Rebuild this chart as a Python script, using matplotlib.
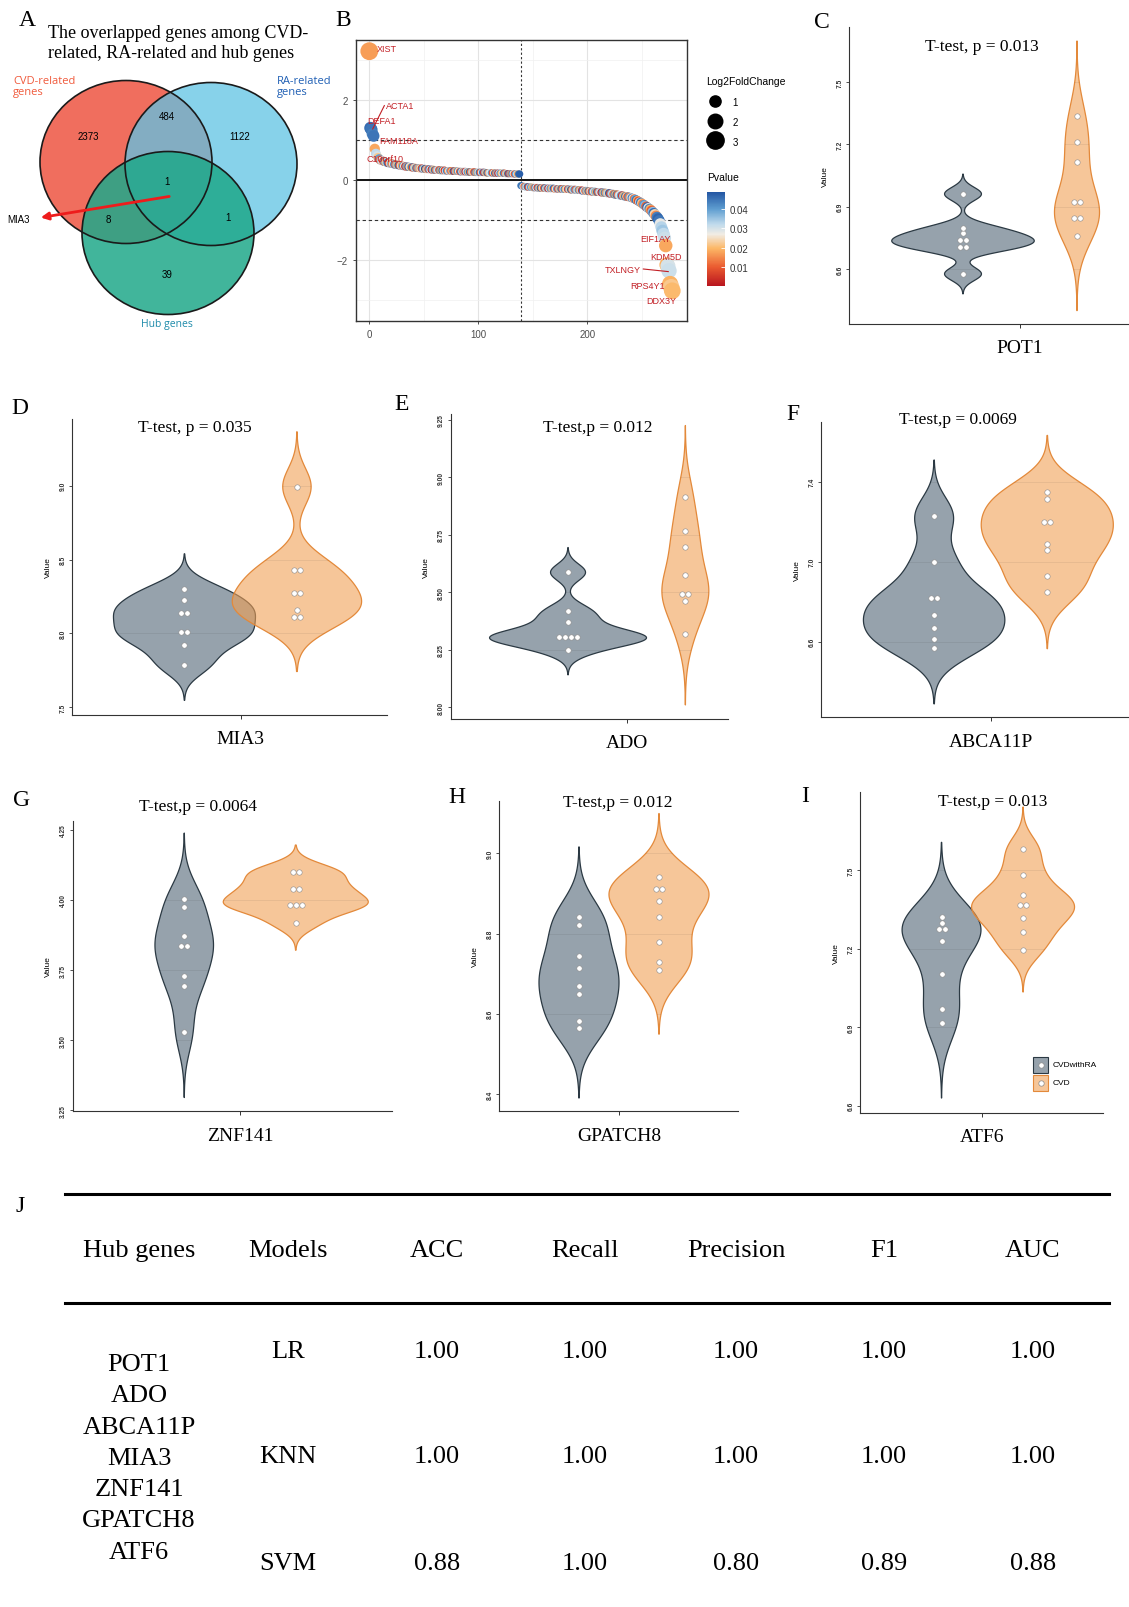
import numpy as np
import matplotlib
matplotlib.use("Agg")
import matplotlib.pyplot as plt
from matplotlib import mlab
from matplotlib.patches import Ellipse, Rectangle
from matplotlib.lines import Line2D
from matplotlib.colors import LinearSegmentedColormap, Normalize, to_rgba
from matplotlib.ticker import FormatStrFormatter

plt.rcParams['font.family'] = ['Liberation Sans', 'DejaVu Sans']
SERIF = 'Liberation Serif'

# ---------------- data ----------------
# A: venn counts (CVD only, CVD&RA, RA only, all three, CVD&Hub, RA&Hub, Hub only)
venn_counts = [2373, 484, 1122, 1, 8, 1, 39]
venn_names = ["CVD-related\ngenes", "RA-related\ngenes", "Hub genes"]

# B: genes ranked by log2 fold change, p value in 1/1000
log2fc_up = [
    3.22, 1.30, 1.26, 1.15, 1.10, 0.78, 0.66, 0.60, 0.56, 0.53, 0.50, 0.49,
    0.48, 0.47, 0.46, 0.45, 0.44, 0.43, 0.43, 0.42, 0.41, 0.41,
    0.40, 0.39, 0.39, 0.38, 0.38, 0.37, 0.37, 0.36, 0.36,
    0.35, 0.35, 0.34, 0.34, 0.33, 0.33, 0.33, 0.32, 0.32, 0.31,
    0.31, 0.31, 0.30, 0.30, 0.30, 0.29, 0.29, 0.29, 0.28, 0.28,
    0.28, 0.27, 0.27, 0.27, 0.27, 0.26, 0.26, 0.26, 0.26, 0.25,
    0.25, 0.25, 0.25, 0.25, 0.24, 0.24, 0.24, 0.24, 0.24, 0.23,
    0.23, 0.23, 0.23, 0.23, 0.23, 0.22, 0.22, 0.22, 0.22, 0.22,
    0.22, 0.22, 0.21, 0.21, 0.21, 0.21, 0.21, 0.21, 0.21, 0.20,
    0.20, 0.20, 0.20, 0.20, 0.20, 0.20, 0.19, 0.19, 0.19, 0.19,
    0.19, 0.19, 0.19, 0.19, 0.19, 0.19, 0.18, 0.18, 0.18, 0.18,
    0.18, 0.18, 0.18, 0.18, 0.17, 0.17, 0.17, 0.17, 0.17, 0.17,
    0.17, 0.17, 0.17, 0.17, 0.16, 0.16, 0.16, 0.16, 0.16, 0.16,
    0.16, 0.16, 0.15, 0.15, 0.15, 0.15, 0.15, 0.15,
]
log2fc_down = [
    -0.14, -0.15, -0.16, -0.16, -0.17, -0.17, -0.17, -0.18, -0.18, -0.18,
    -0.18, -0.19, -0.19, -0.19, -0.19, -0.19, -0.20, -0.20, -0.20, -0.20,
    -0.20, -0.20, -0.20, -0.21, -0.21, -0.21, -0.21, -0.21, -0.21, -0.21,
    -0.21, -0.22, -0.22, -0.22, -0.22, -0.22, -0.22, -0.22, -0.22, -0.23,
    -0.23, -0.23, -0.23, -0.23, -0.23, -0.24, -0.24, -0.24, -0.24, -0.24,
    -0.24, -0.25, -0.25, -0.25, -0.25, -0.26, -0.26, -0.27, -0.27, -0.27,
    -0.27, -0.28, -0.28, -0.28, -0.28, -0.29, -0.29, -0.29, -0.29, -0.30,
    -0.30, -0.30, -0.30, -0.31, -0.31, -0.31, -0.32, -0.32, -0.32, -0.33,
    -0.33, -0.33, -0.34, -0.34, -0.34, -0.35, -0.36, -0.36, -0.37, -0.37,
    -0.38, -0.38, -0.39, -0.39, -0.40, -0.40, -0.41, -0.41, -0.42, -0.42,
    -0.43, -0.44, -0.45, -0.46, -0.47, -0.48, -0.50, -0.51, -0.53, -0.55,
    -0.56, -0.58, -0.60, -0.62, -0.64, -0.66, -0.68, -0.70, -0.72, -0.74,
    -0.77, -0.80, -0.83, -0.86, -0.90, -0.93, -0.97, -1.02, -1.10, -1.18,
    -1.27, -1.35, -1.45, -1.64, -2.12, -2.15, -2.27, -2.60, -2.68, -2.77,
]
pval_up = [
    17, 46, 45, 44, 45, 18, 32, 30, 22, 40, 12, 35,
    27, 8, 41, 19, 33, 46, 5, 24, 38, 14,
    29, 44, 11, 36, 21, 48, 9, 31, 17, 42,
    26, 3, 39, 15, 47, 28, 20, 44, 7, 34,
    23, 45, 12, 37, 18, 30, 6, 41, 25, 49,
    16, 33, 10, 43, 27, 2, 38, 21, 46, 13,
    35, 29, 8, 40, 19, 47, 24, 4, 32, 44,
    15, 28, 39, 11, 22, 48, 6, 36, 18, 42,
    26, 9, 45, 31, 14, 37, 3, 29, 41, 20,
    47, 12, 34, 23, 7, 43, 17, 38, 25, 46,
    10, 30, 44, 5, 36, 21, 48, 15, 33, 27,
    40, 8, 24, 46, 13, 37, 2, 31, 42, 19,
    28, 45, 11, 35, 22, 47, 6, 39, 16, 44,
    26, 9, 41, 32, 18, 46, 48,
]
pval_down = [
    44, 46, 30, 12, 38, 25, 47, 8, 33, 41,
    20, 36, 14, 43, 27, 5, 39, 22, 48, 16,
    31, 10, 45, 24, 37, 3, 29, 42, 18, 34,
    47, 13, 26, 40, 7, 35, 21, 46, 11, 32,
    44, 19, 28, 6, 38, 23, 49, 15, 30, 41,
    9, 36, 25, 43, 17, 33, 4, 45, 27, 12,
    39, 22, 47, 14, 31, 8, 42, 26, 37, 18,
    46, 10, 34, 29, 3, 41, 21, 44, 16, 35,
    24, 48, 7, 38, 30, 13, 43, 20, 45, 11,
    33, 27, 40, 5, 36, 19, 47, 23, 9, 42,
    15, 31, 44, 26, 12, 39, 46, 18, 8, 34,
    45, 22, 14, 41, 37, 11, 47, 28, 43, 19,
    10, 36, 46, 24, 15, 44, 47, 45, 28, 33,
    35, 32, 31, 18, 19, 30, 31, 19, 22, 20,
]
b_labels = ["XIST", "ACTA1", "DEFA1", "FAM118A", "C10orf10",
            "EIF1AY", "KDM5D", "TXLNGY", "RPS4Y1", "DDX3Y"]
b_label_pos = [(7, 3.3), (15, 1.86), (-2, 1.48), (9, 0.98), (-3, 0.53),
               (249, -1.45), (257.5, -1.9), (216, -2.23), (239, -2.63), (254, -3.0)]

# C-I: expression values (CVDwithRA, CVD)
genes = ["POT1", "MIA3", "ADO", "ABCA11P", "ZNF141", "GPATCH8", "ATF6"]
letters = ["C", "D", "E", "F", "G", "H", "I"]
ttests = ["T-test, p = 0.013", "T-test, p = 0.035", "T-test,p = 0.012",
          "T-test,p = 0.0069", "T-test,p = 0.0064", "T-test,p = 0.012",
          "T-test,p = 0.013"]
pot1_ra = [6.961, 6.799, 6.772, 6.741, 6.741, 6.704, 6.704, 6.576]
pot1_cvd = [7.338, 7.213, 7.115, 6.921, 6.921, 6.846, 6.846, 6.759]
mia3_ra = [8.299, 8.225, 8.137, 8.137, 8.010, 8.010, 7.920, 7.787]
mia3_cvd = [8.993, 8.432, 8.432, 8.274, 8.274, 8.159, 8.114, 8.114]
ado_ra = [8.587, 8.420, 8.372, 8.304, 8.304, 8.304, 8.304, 8.249]
ado_cvd = [8.917, 8.765, 8.697, 8.577, 8.494, 8.494, 8.461, 8.319]
abca11p_ra = [7.230, 6.997, 6.817, 6.817, 6.734, 6.670, 6.614, 6.568]
abca11p_cvd = [7.350, 7.314, 7.200, 7.200, 7.089, 7.059, 6.930, 6.847]
znf141_ra = [4.004, 3.976, 3.870, 3.834, 3.834, 3.729, 3.692, 3.530]
znf141_cvd = [4.098, 4.098, 4.037, 4.037, 3.982, 3.982, 3.982, 3.918]
gpatch8_ra = [8.842, 8.822, 8.743, 8.715, 8.669, 8.650, 8.582, 8.564]
gpatch8_cvd = [8.940, 8.912, 8.912, 8.880, 8.842, 8.778, 8.729, 8.708]
atf6_ra = [7.321, 7.299, 7.274, 7.274, 7.229, 7.103, 6.971, 6.914]
atf6_cvd = [7.579, 7.481, 7.406, 7.365, 7.365, 7.316, 7.265, 7.196]
ra_values = [pot1_ra, mia3_ra, ado_ra, abca11p_ra, znf141_ra, gpatch8_ra, atf6_ra]
cvd_values = [pot1_cvd, mia3_cvd, ado_cvd, abca11p_cvd, znf141_cvd, gpatch8_cvd, atf6_cvd]
group_names = ["CVDwithRA", "CVD"]
# kernel bandwidths and max widths of the violins
bw_ra = [0.032, 0.080, 0.036, 0.093, 0.078, 0.058, 0.095]
bw_cvd = [0.120, 0.124, 0.103, 0.094, 0.0325, 0.053, 0.054]
width_ra = [0.50, 0.505, 0.535, 0.50, 0.21, 0.40, 0.387]
width_cvd = [0.158, 0.46, 0.16, 0.467, 0.52, 0.50, 0.505]

# J: model table
table_cols = ["Hub genes", "Models", "ACC", "Recall", "Precision", "F1", "AUC"]
table_genes = ["POT1", "ADO", "ABCA11P", "MIA3", "ZNF141", "GPATCH8", "ATF6"]
models = ["LR", "KNN", "SVM"]
acc = [1.00, 1.00, 0.88]
recall = [1.00, 1.00, 1.00]
precision = [1.00, 1.00, 0.80]
f1 = [1.00, 1.00, 0.89]
auc = [1.00, 1.00, 0.88]

# ---------------- figure ----------------
W, H = 1129, 1608
fig = plt.figure(figsize=(W / 100, H / 100), dpi=100)


def px_ax(l, t, r, b):
    return fig.add_axes([l / W, 1 - b / H, (r - l) / W, (b - t) / H])


def ftext(x, y, s, **kw):
    return fig.text(x / W, 1 - y / H, s, **kw)


# ---- A: venn ----
ax_a = px_ax(0, 0, 345, 345)
ax_a.set_xlim(0, 345)
ax_a.set_ylim(345, 0)
ax_a.axis('off')
circ = [((126, 163), '#F06E5E', 1.0), ((211, 165), '#5FC3E4', 0.75), ((168, 234), '#1FA88A', 0.85)]
for c, col, a in circ:
    ax_a.add_patch(Ellipse(c, 172, 163, facecolor=to_rgba(col, a), edgecolor='none'))
for c, col, a in circ:
    ax_a.add_patch(Ellipse(c, 172, 163, fill=False, edgecolor='#1a1a1a', lw=1.2))
count_pos = [(88, 137), (167, 117), (240, 137), (167, 182), (108, 220), (228, 218), (167, 275)]
for (x, y), n in zip(count_pos, venn_counts):
    ax_a.text(x, y, str(n), fontsize=7, ha='center', va='center')
ax_a.text(13, 87, venn_names[0], color='#F05A3C', fontsize=8, family='Open Sans',
          ha='left', va='center', linespacing=1.0)
ax_a.text(277, 87, venn_names[1], color='#1F5FB4', fontsize=8, family='Open Sans',
          ha='left', va='center', linespacing=1.0)
ax_a.text(167, 324, venn_names[2], color='#1E8BAA', fontsize=7.5, family='Open Sans',
          ha='center', va='center')
ax_a.annotate('', xy=(38, 219), xytext=(172, 197),
              arrowprops=dict(arrowstyle='-|>', color='#EE1C1C', lw=2, mutation_scale=11))
ax_a.text(7, 220, 'MIA3', fontsize=7, ha='left', va='center')
ftext(27, 20, 'A', family=SERIF, fontsize=17, ha='center', va='center')
ftext(48, 33, 'The overlapped genes among CVD-', family=SERIF, fontsize=13, ha='left', va='center')
ftext(48, 53, 'related, RA-related and hub genes', family=SERIF, fontsize=13, ha='left', va='center')

# ---- B: ranked fold change ----
ax_b = px_ax(356, 41, 687, 322)
fc = np.array(log2fc_up + log2fc_down)
pv = np.array(pval_up + pval_down) / 1000
xr = np.arange(len(fc))
cmap = LinearSegmentedColormap.from_list(
    'pv', [(0, '#B8151F'), (0.2, '#EA5A30'), (0.4, '#FCB766'), (0.55, '#F1ECE4'),
           (0.66, '#BFDAEC'), (0.82, '#5E9DD0'), (1, '#2356A3')])
norm = Normalize(0, 0.049)
ax_b.axhline(0, color='black', lw=1.3, zorder=2)
for yv in (1, -1):
    ax_b.axhline(yv, color='#333333', lw=0.8, ls=(0, (3, 2.5)), zorder=2)
ax_b.axvline(len(log2fc_up), color='#333333', lw=0.8, ls=(0, (2, 2)), zorder=2)
sc = ax_b.scatter(xr, fc, s=20 + 45 * np.abs(fc), c=pv, cmap=cmap, norm=norm, lw=0, zorder=3)
for name, (tx, ty) in zip(b_labels, b_label_pos):
    ax_b.text(tx, ty, name, color='#C21F25', fontsize=6.5, ha='left', va='center', zorder=5)
ax_b.plot([13.8, 3.1], [1.86, 1.275], color='#C21F25', lw=0.8, zorder=5)
ax_b.plot([251.4, 274.3], [-2.225, -2.29], color='#C21F25', lw=0.8, zorder=5)
ax_b.set_xlim(-12.2, 291.5)
ax_b.set_ylim(-3.525, 3.5)
ax_b.set_xticks([0, 100, 200])
ax_b.set_xticks([50, 150, 250], minor=True)
ax_b.set_yticks([-2, 0, 2])
ax_b.set_yticks([-3, -1, 1, 3], minor=True)
ax_b.grid(which='major', color='#E3E3E3', lw=0.8)
ax_b.grid(which='minor', color='#F0F0F0', lw=0.5)
ax_b.set_axisbelow(True)
ax_b.tick_params(which='major', labelsize=7, labelcolor='#4D4D4D', length=2.5, width=0.6, color='#333333')
ax_b.tick_params(which='minor', length=0)
for s in ax_b.spines.values():
    s.set_color('#333333')
    s.set_linewidth(1.0)
size_handles = [Line2D([], [], ls='', marker='o', color='black', markersize=np.sqrt(20 + 45 * v))
                for v in (1, 2, 3)]
ax_b.legend(size_handles, ['1', '2', '3'], loc='upper left',
            bbox_to_anchor=(707 / W, 1 - 97 / H), bbox_transform=fig.transFigure, frameon=False,
            fontsize=7, handlelength=1.6, handleheight=1.6, handletextpad=1.0,
            labelspacing=0.75, borderpad=0, borderaxespad=0)
ftext(706, 82, 'Log2FoldChange', fontsize=7.5, ha='left', va='center')
cax = px_ax(707, 193, 725, 287)
cb = fig.colorbar(sc, cax=cax, ticks=[0.01, 0.02, 0.03, 0.04])
cb.outline.set_visible(False)
cax.tick_params(length=3, width=0.6, color='white', direction='in', labelsize=7,
                labelcolor='#333333', pad=3)
cax.yaxis.set_major_formatter(FormatStrFormatter('%.2f'))
ftext(707, 178, 'Pvalue', fontsize=7.5, ha='left', va='center')
ftext(343, 20, 'B', family=SERIF, fontsize=17, ha='center', va='center')

# ---- C-I: violins ----
GRAY, GRAY_EDGE = '#5E7180', '#2B3943'
ORANGE, ORANGE_EDGE = '#F0A055', '#E3893A'
layout = [  # left, top, right, bottom, x tick (px)
    (849, 28, 1129, 325, 1020),
    (72, 420, 387, 716, 240.7),
    (450.7, 415, 728, 720, 626.7),
    (821, 423, 1129, 718.3, 990.7),
    (72.7, 821.7, 391.7, 1112.3, 240),
    (499, 801.7, 738, 1112.3, 619),
    (860, 793.3, 1103.3, 1114, 982.3),
]
ylims = [(6.335, 7.765), (7.448, 9.451), (7.949, 9.276), (6.222, 7.699),
         (3.247, 4.282), (8.357, 9.131), (6.572, 7.797)]
yticks = [[6.6, 6.9, 7.2, 7.5], [7.5, 8.0, 8.5, 9.0], [8.0, 8.25, 8.5, 8.75, 9.0, 9.25],
          [6.6, 7.0, 7.4], [3.25, 3.5, 3.75, 4.0, 4.25], [8.4, 8.6, 8.8, 9.0], [6.6, 6.9, 7.2, 7.5]]
yfmt = ['%.1f', '%.1f', '%.2f', '%.1f', '%.2f', '%.1f', '%.1f']
letter_pos = [(822, 23), (20, 408), (402, 405), (793, 415), (22, 801), (457, 798), (805, 797)]
title_pos = [(982, 47), (195, 428), (598, 428), (958, 420), (198, 807), (618, 803), (993, 802)]


def violin(ax, vals, pos, bw, width, face, edge, alpha):
    vals = np.asarray(vals, dtype=float)
    kde = mlab.GaussianKDE(vals, bw / vals.std(ddof=1))
    yy = np.linspace(vals.min() - 3 * bw, vals.max() + 3 * bw, 400)
    dens = kde.evaluate(yy)
    hw = dens / dens.max() * width / 2
    xs = np.r_[pos - hw, (pos + hw)[::-1]]
    ys = np.r_[yy, yy[::-1]]
    return ax.fill(xs, ys, facecolor=to_rgba(face, alpha), edgecolor=edge, lw=0.9, zorder=2)[0]


def dots(ax, vals, pos, spacing):
    u, c = np.unique(np.round(vals, 3), return_counts=True)
    xs, ys = [], []
    for v, k in zip(u, c):
        for j in range(k):
            xs.append(pos + (j - (k - 1) / 2) * spacing)
            ys.append(v)
    ax.scatter(xs, ys, s=15, facecolor='white', edgecolor='#8a8a8a', lw=0.4, zorder=4)


axes_v = []
for i, gene in enumerate(genes):
    l, t, r, b, tk = layout[i]
    ppu = (tk - l) / 0.6
    ax = px_ax(l, t, r, b)
    axes_v.append(ax)
    polys = [violin(ax, ra_values[i], 0.8, bw_ra[i], width_ra[i], GRAY, GRAY_EDGE, 0.65),
             violin(ax, cvd_values[i], 1.2, bw_cvd[i], width_cvd[i], ORANGE, ORANGE_EDGE, 0.6)]
    for yt in yticks[i]:
        for p in polys:
            ln = ax.axhline(yt, color='black', alpha=0.07, lw=0.6, zorder=3)
            ln.set_clip_path(p)
    dots(ax, ra_values[i], 0.8, 6 / ppu)
    dots(ax, cvd_values[i], 1.2, 6 / ppu)
    ax.set_xlim(0.4, 1 + (r - tk) / ppu)
    ax.set_ylim(*ylims[i])
    ax.set_yticks(yticks[i])
    ax.yaxis.set_major_formatter(FormatStrFormatter(yfmt[i]))
    ax.set_xticks([1], [gene])
    ax.tick_params(axis='x', length=3, width=0.7, pad=8, labelsize=14, color='#333333')
    ax.tick_params(axis='y', length=2.5, width=0.6, pad=1.5, labelsize=4.8,
                   labelrotation=90, labelcolor='#333333', color='#333333')
    for lab in ax.get_xticklabels():
        lab.set_family(SERIF)
    for lab in ax.get_yticklabels():
        lab.set_va('center')
        lab.set_fontweight('bold')
    for s in ('top', 'right'):
        ax.spines[s].set_visible(False)
    for s in ('left', 'bottom'):
        ax.spines[s].set_color('#333333')
        ax.spines[s].set_linewidth(0.8)
    ftext(l - 24, (t + b) / 2, 'Value', fontsize=6, rotation=90, ha='center', va='center')
    ftext(*title_pos[i], ttests[i], family=SERIF, fontsize=12.5, ha='center', va='center')
    ftext(*letter_pos[i], letters[i], family=SERIF, fontsize=17, ha='center', va='center')

# group legend (drawn in pixel space next to panel I)
lax = px_ax(1030, 1055, 1110, 1095)
lax.set_xlim(1030, 1110)
lax.set_ylim(1095, 1055)
lax.axis('off')
key_style = [(GRAY, GRAY_EDGE, 0.65, 1058), (ORANGE, ORANGE_EDGE, 0.6, 1075.5)]
for (face, edge, a, ky), name in zip(key_style, group_names):
    lax.add_patch(Rectangle((1033, ky), 15, 16, facecolor=to_rgba(face, a), edgecolor=edge, lw=0.8))
    lax.scatter([1040.5], [ky + 8], s=15, facecolor='white', edgecolor='#8a8a8a', lw=0.5, zorder=3)
    lax.text(1053, ky + 8, name, fontsize=6, ha='left', va='center')

# ---- J: table ----
ftext(20, 1207, 'J', family=SERIF, fontsize=17, ha='center', va='center')
for yl in (1195, 1304):
    fig.add_artist(Line2D([64.6 / W, 1109 / W], [1 - yl / H] * 2, color='black', lw=2.2))
col_x = [139, 288, 437, 585, 736, 884, 1033]
for cx, name in zip(col_x, table_cols):
    ftext(cx, 1251, name, family=SERIF, fontsize=19, ha='center', va='center')
row_y = [1352, 1457, 1564]
metrics = [acc, recall, precision, f1, auc]
for i, m in enumerate(models):
    ftext(col_x[1], row_y[i], m, family=SERIF, fontsize=19, ha='center', va='center')
    for j, col in enumerate(metrics):
        ftext(col_x[2 + j], row_y[i], f'{col[i]:.2f}', family=SERIF, fontsize=19,
              ha='center', va='center')
for k, g in enumerate(table_genes):
    ftext(col_x[0], 1365 + 31.3 * k, g, family=SERIF, fontsize=19, ha='center', va='center')

fig.savefig('out.png', dpi=100)
